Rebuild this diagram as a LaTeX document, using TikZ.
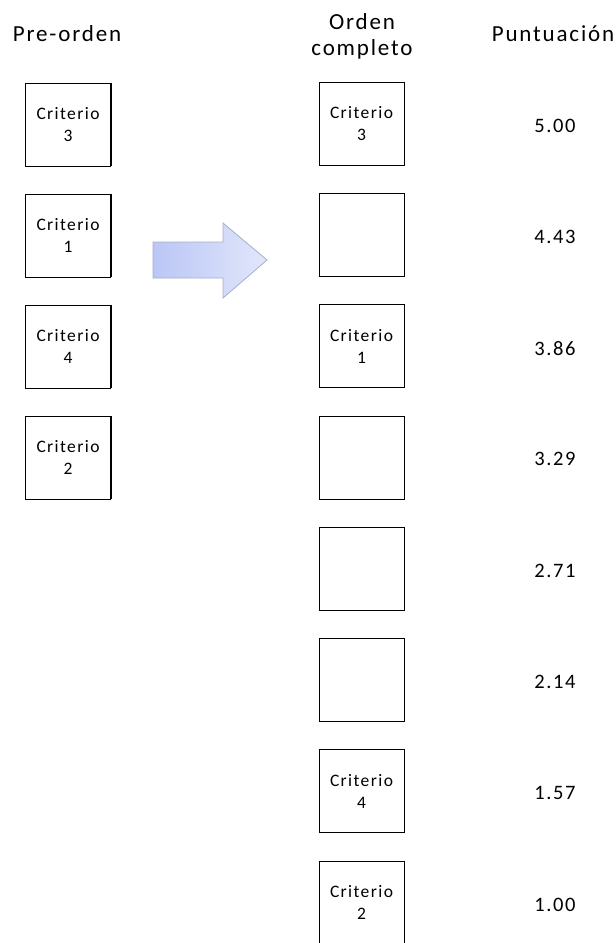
\documentclass[tikz,border=0pt]{standalone}
\usepackage{fontspec}
\setmainfont{Carlito}[LetterSpace=8]
\usetikzlibrary{positioning}
\definecolor{arrowleft}{RGB}{186,198,245}
\definecolor{arrowright}{RGB}{226,231,251}
\definecolor{arrowedge}{RGB}{165,175,205}

\tikzset{
  critbox/.style={draw, line width=0.8pt, minimum width=85pt, minimum height=83pt, inner sep=0pt},
  crittext/.style={align=center, font=\fontsize{17.5}{22}\selectfont},
  header/.style={align=center, font=\fontsize{23}{26}\selectfont},
  score/.style={font=\fontsize{20.5}{24}\selectfont}
}

\begin{document}
\begin{tikzpicture}[x=1pt, y=-1pt]
    \useasboundingbox (0,0) rectangle (616,943);

    % Headers
    \node[header] (pre) at (67,34) {Pre-orden};
    \node[header] (full) at (362,36) {Orden\\completo};
    \node[header] (punt) at (553,34) {Puntuación};

    % Pre-order column
    \foreach \c [count=\i from 0] in {3,1,4,2} {
        \pgfmathsetmacro{\y}{124.5+111*\i}
        \node[critbox] (pre\i) at (68,\y) {};
        \node[crittext] (pretext\i) at (pre\i) {Criterio\\\c};
        \draw[line width=1.6pt] (pre\i.north east) -- (pre\i.south east);
    }

    % Arrow
    \shadedraw[left color=arrowleft, right color=arrowright, draw=arrowedge, line width=0.8pt]
        (153,242) -- (223,242) -- (223,223) -- (267,260) -- (223,298) -- (223,278) -- (153,278) -- cycle;

    % Full order column with scores
    \foreach \s [count=\i from 0] in {5.00,4.43,3.86,3.29,2.71,2.14,1.57,1.00} {
        \pgfmathsetmacro{\y}{123.5+111.3*\i}
        \node[critbox] (slot\i) at (361.5,\y) {};
        \draw[line width=1.6pt] (slot\i.north east) -- (slot\i.south east);
        \node[score] (score\i) at (555,\y+2) {\s};
    }
    \foreach \i/\c in {0/3, 2/1, 6/4, 7/2}
        \node[crittext] (slottext\i) at (slot\i) {Criterio\\\c};
\end{tikzpicture}
\end{document}
